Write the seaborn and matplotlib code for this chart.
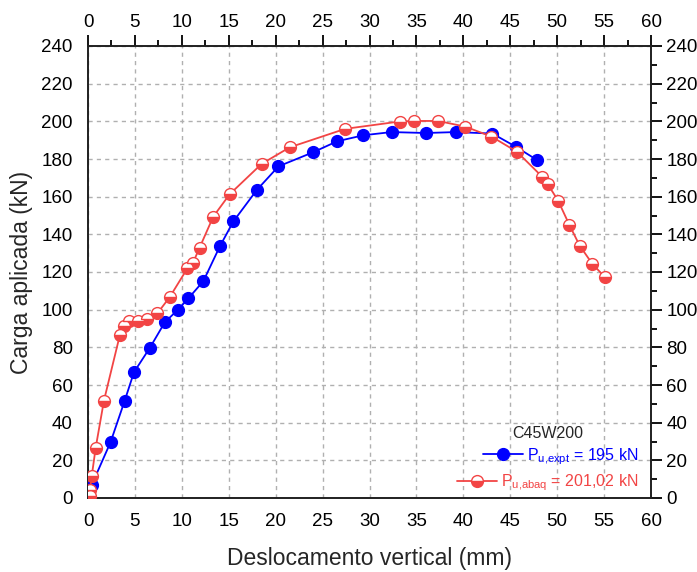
import matplotlib
matplotlib.use("Agg")
import matplotlib.pyplot as plt
import seaborn as sns
import pandas as pd
from matplotlib.ticker import MultipleLocator

# Experimental curve (blue)
expt_x = [0.4, 2.4, 3.9, 4.9, 6.6, 8.2, 9.55, 10.7, 12.3, 14.05, 15.5, 18.0, 20.3,
          24.0, 26.55, 29.35, 32.35, 36.0, 39.2, 43.1, 45.6, 47.9]
expt_y = [7.0, 29.6, 51.5, 66.8, 79.8, 93.4, 99.8, 106.0, 115.2, 133.6, 146.9, 163.6, 176.1,
          183.6, 189.4, 192.6, 194.3, 193.8, 194.3, 193.5, 186.5, 179.3]

# Abaqus curve (red)
abaq_x = [0.2, 0.2, 0.4, 0.82, 1.7, 3.4, 3.8, 4.4, 5.3, 6.25, 7.4, 8.7, 10.6, 11.2,
          11.9, 13.35, 15.1, 18.5, 21.5, 27.4, 33.2, 34.7, 37.3, 40.2, 43.0, 45.7,
          48.4, 49.0, 50.1, 51.3, 52.4, 53.75, 55.1]
abaq_y = [1.0, 4.2, 11.7, 26.7, 51.7, 86.6, 91.3, 94.2, 94.2, 95.1, 98.1, 106.6, 122.0, 125.0,
          133.0, 149.4, 161.3, 177.4, 186.2, 196.0, 199.9, 200.2, 200.2, 197.2, 191.9, 183.9,
          170.6, 166.6, 157.9, 145.0, 134.0, 124.3, 117.2]

legend_title = "C45W200"
label_expt = r"$\mathregular{P_{u{,}expt}}$ = 195 kN"
label_abaq = r"$\mathregular{P_{u{,}abaq}}$ = 201,02 kN"

BLUE = "#0000FF"
RED = "#F24444"

sns.set_style("white")
plt.rcParams["font.family"] = ["Liberation Sans", "DejaVu Sans"]
plt.rcParams["mathtext.fontset"] = "custom"
plt.rcParams["mathtext.rm"] = "Liberation Sans"
plt.rcParams["mathtext.it"] = "Liberation Sans"

fig = plt.figure(figsize=(6.97, 5.72), dpi=100)
ax = fig.add_axes([88/697, 1 - 498/572, (651-88)/697, (498-46)/572])

df_e = pd.DataFrame({"x": expt_x, "y": expt_y})
df_a = pd.DataFrame({"x": abaq_x, "y": abaq_y})

sns.lineplot(data=df_e, x="x", y="y", sort=False, estimator=None, ax=ax, color=BLUE,
             marker="o", markersize=8.5, markeredgecolor=BLUE, markerfacecolor=BLUE,
             markeredgewidth=1.0, linewidth=1.3, label=label_expt, legend=False, zorder=3)
sns.lineplot(data=df_a, x="x", y="y", sort=False, estimator=None, ax=ax, color=RED,
             marker="o", markersize=8.5, markeredgecolor=RED, markerfacecolor=RED,
             fillstyle="bottom", markerfacecoloralt="white",
             markeredgewidth=1.0, linewidth=1.3, label=label_abaq, legend=False, zorder=3)

ax.set_xlim(0, 60)
ax.set_ylim(0, 240)
ax.xaxis.set_major_locator(MultipleLocator(5))
ax.xaxis.set_minor_locator(MultipleLocator(2.5))
ax.yaxis.set_major_locator(MultipleLocator(20))
ax.yaxis.set_minor_locator(MultipleLocator(10))

ax.tick_params(which="both", direction="out", top=True, right=True,
               labeltop=True, labelright=True, labelsize=13.5, width=1.3, colors="black")
ax.tick_params(which="major", length=8, pad=3)
ax.tick_params(which="minor", length=4)

ax.grid(True, which="major", color="#b0b0b0", linestyle=(0, (3, 3)), linewidth=1.0)
ax.set_axisbelow(True)
for s in ax.spines.values():
    s.set_linewidth(1.4)
    s.set_color("#202020")

ax.set_xlabel("Deslocamento vertical (mm)", fontsize=16.5, labelpad=12)
ax.set_ylabel("Carga aplicada (kN)", fontsize=16.5, labelpad=6)

lines = ax.get_lines()
leg = ax.legend(handles=lines[:2], labels=[label_expt, label_abaq], title=legend_title,
                loc="lower right", bbox_to_anchor=(0.995, -0.01), frameon=False,
                fontsize=11.5, title_fontsize=11.5, handlelength=2.5, handletextpad=0.3,
                labelspacing=0.35, borderaxespad=0.2)
for txt, c in zip(leg.get_texts(), [BLUE, RED]):
    txt.set_color(c)
# right-align each entry (handle follows its own text) as in the original
for col in leg._legend_handle_box.get_children():
    col.align = "right"

fig.savefig("out.png", dpi=100)
